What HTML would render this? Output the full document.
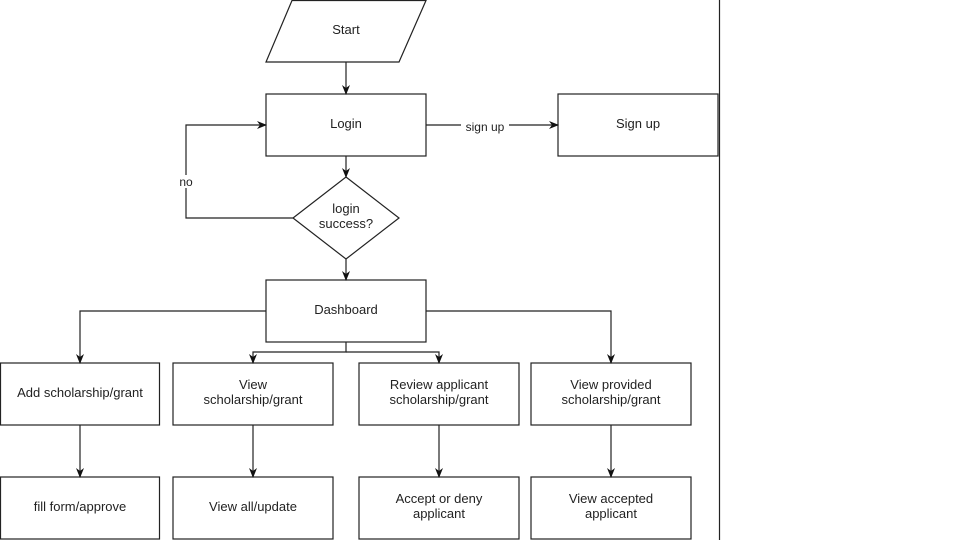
<!DOCTYPE html>
<html><head><style>
body{margin:0;background:#fff;}
svg text{font-family:"Liberation Sans",sans-serif;font-size:13px;fill:#222;text-anchor:middle;}
</style></head><body>
<svg width="960" height="540" viewBox="0 0 960 540" xmlns="http://www.w3.org/2000/svg">
<defs><marker id="a" markerWidth="10" markerHeight="10" refX="9" refY="5" orient="auto" markerUnits="userSpaceOnUse"><path d="M0,1 L10,5 L0,9 L3,5 Z" fill="#111"/></marker></defs>
<g fill="none" stroke="#222" stroke-width="1.2">
<polygon points="292,0.5 426,0.5 399,62 266,62"/>
<rect x="266" y="94" width="160" height="62"/>
<rect x="558" y="94" width="160" height="62"/>
<polygon points="346,177 399,218 346,259 293,218"/>
<rect x="266" y="280" width="160" height="62"/>
<rect x="0.5" y="363" width="159" height="62"/>
<rect x="173" y="363" width="160" height="62"/>
<rect x="359" y="363" width="160" height="62"/>
<rect x="531" y="363" width="160" height="62"/>
<rect x="0.5" y="477" width="159" height="62"/>
<rect x="173" y="477" width="160" height="62"/>
<rect x="359" y="477" width="160" height="62"/>
<rect x="531" y="477" width="160" height="62"/>
<line x1="719.5" y1="0" x2="719.5" y2="540"/>
<g marker-end="url(#a)">
<line x1="346" y1="62" x2="346" y2="94"/>
<line x1="426" y1="125" x2="558" y2="125"/>
<line x1="346" y1="156" x2="346" y2="177"/>
<polyline points="293,218 186,218 186,125 266,125"/>
<line x1="346" y1="259" x2="346" y2="280"/>
<polyline points="266,311 80,311 80,363"/>
<polyline points="426,311 611,311 611,363"/>
<polyline points="346,342 346,352 253,352 253,363"/>
<polyline points="346,352 439,352 439,363"/>
<line x1="80" y1="425" x2="80" y2="477"/>
<line x1="253" y1="425" x2="253" y2="477"/>
<line x1="439" y1="425" x2="439" y2="477"/>
<line x1="611" y1="425" x2="611" y2="477"/>
</g></g>
<rect x="461" y="119" width="48" height="13" fill="#fff"/>
<rect x="178" y="175" width="17" height="13" fill="#fff"/>
<text x="346" y="34">Start</text>
<text x="346" y="128">Login</text>
<text x="638" y="128">Sign up</text>
<text x="485" y="131" style="font-size:12px">sign up</text>
<text x="186" y="186" style="font-size:12px">no</text>
<text x="346" y="213">login</text>
<text x="346" y="228">success?</text>
<text x="346" y="314">Dashboard</text>
<text x="80" y="397">Add scholarship/grant</text>
<text x="253" y="389">View</text>
<text x="253" y="404">scholarship/grant</text>
<text x="439" y="389">Review applicant</text>
<text x="439" y="404">scholarship/grant</text>
<text x="611" y="389">View provided</text>
<text x="611" y="404">scholarship/grant</text>
<text x="80" y="511">fill form/approve</text>
<text x="253" y="511">View all/update</text>
<text x="439" y="503">Accept or deny</text>
<text x="439" y="518">applicant</text>
<text x="611" y="503">View accepted</text>
<text x="611" y="518">applicant</text>
</svg>
</body></html>
